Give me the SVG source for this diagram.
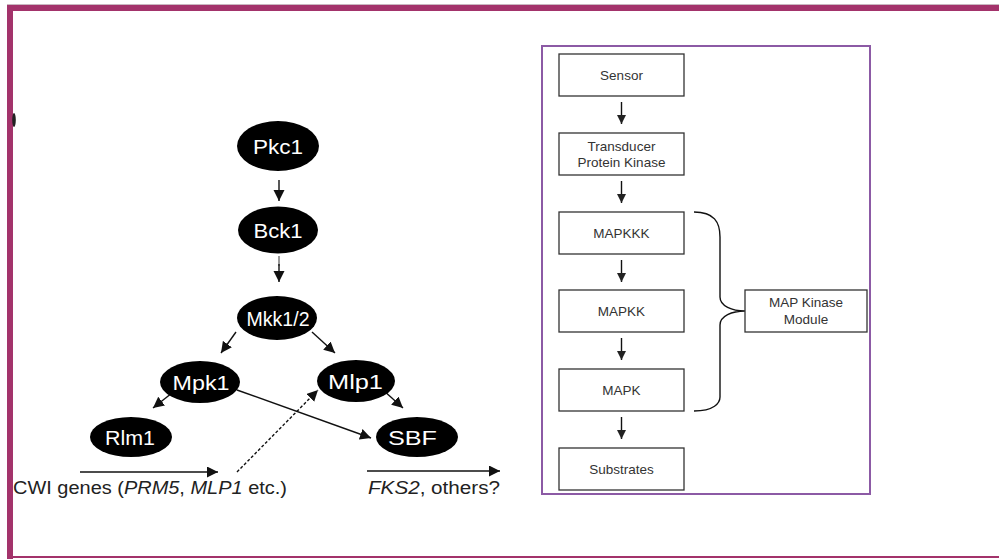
<svg xmlns="http://www.w3.org/2000/svg" width="999" height="559" viewBox="0 0 999 559">
<style>
.node{fill:#000;}
.nt{fill:#fff;font-family:"Liberation Sans",Arial,sans-serif;font-size:21px;text-anchor:middle;}
.ln{stroke:#111;stroke-width:1.4;fill:none;}
.box{fill:#fff;stroke:#333;stroke-width:1.3;}
.bt{fill:#333;font-family:"Liberation Sans",Arial,sans-serif;font-size:13.5px;text-anchor:middle;}
.lab{fill:#222;font-family:"Liberation Sans",Arial,sans-serif;font-size:18px;}
</style>
<defs>
<marker id="ah" markerUnits="userSpaceOnUse" markerWidth="13" markerHeight="12" refX="11" refY="5.5" orient="auto">
<path d="M0,0 L11,5.5 L0,11 z" fill="#111"/>
</marker>
<marker id="ahs" markerUnits="userSpaceOnUse" markerWidth="10" markerHeight="10" refX="9" refY="4.5" orient="auto">
<path d="M0,0 L9,4.5 L0,9 z" fill="#222"/>
</marker>
</defs>
<rect x="0" y="0" width="999" height="559" fill="#fff"/>
<rect x="7" y="4" width="992" height="1" fill="#c9b7c0"/>
<rect x="7" y="5" width="992" height="6" fill="#a3336b"/>
<rect x="7" y="5" width="6" height="554" fill="#a3336b"/>
<rect x="7" y="556" width="992" height="2" fill="#a3336b"/>
<ellipse cx="14" cy="120" rx="1.8" ry="7" fill="#222"/>

<g id="connectors-left">
<line class="ln" x1="279" y1="180" x2="279" y2="201" marker-end="url(#ah)"/>
<line x1="279" y1="256" x2="279" y2="266" stroke="#999" stroke-width="2"/>
<line class="ln" x1="279" y1="264" x2="279" y2="282" marker-end="url(#ah)"/>
<line class="ln" x1="236" y1="332" x2="221" y2="353" marker-end="url(#ah)"/>
<line class="ln" x1="312" y1="332" x2="335" y2="353" marker-end="url(#ah)"/>
<line class="ln" x1="172" y1="393" x2="153" y2="408" marker-end="url(#ah)"/>
<line class="ln" x1="383" y1="390" x2="403" y2="408" marker-end="url(#ah)"/>
<line class="ln" x1="237" y1="390" x2="371" y2="438" marker-end="url(#ah)"/>
<line class="ln" x1="237" y1="472" x2="318" y2="390" stroke-dasharray="3,2" marker-end="url(#ah)"/>
<line class="ln" x1="80" y1="472" x2="218" y2="472" marker-end="url(#ah)"/>
<line class="ln" x1="367" y1="471" x2="500" y2="471" marker-end="url(#ah)"/>
</g>

<g id="n-pkc1"><ellipse class="node" cx="278" cy="146" rx="41" ry="25"/><text class="nt" x="278" y="153.5" textLength="50" lengthAdjust="spacingAndGlyphs">Pkc1</text></g>
<g id="n-bck1"><ellipse class="node" cx="278" cy="230" rx="40" ry="23.5"/><text class="nt" x="278" y="237.5" textLength="49" lengthAdjust="spacingAndGlyphs">Bck1</text></g>
<g id="n-mkk"><ellipse class="node" cx="277" cy="318" rx="40" ry="22"/><text class="nt" x="278" y="325.5" textLength="63" lengthAdjust="spacingAndGlyphs">Mkk1/2</text></g>
<g id="n-mpk1"><ellipse class="node" cx="200" cy="382" rx="40" ry="21"/><text class="nt" x="201" y="389.5" textLength="57" lengthAdjust="spacingAndGlyphs">Mpk1</text></g>
<g id="n-mlp1"><ellipse class="node" cx="356" cy="381" rx="39" ry="21"/><text class="nt" x="355.5" y="388.5" textLength="55" lengthAdjust="spacingAndGlyphs">Mlp1</text></g>
<g id="n-rlm1"><ellipse class="node" cx="131" cy="437" rx="41" ry="20"/><text class="nt" x="130" y="444.5" textLength="50" lengthAdjust="spacingAndGlyphs">Rlm1</text></g>
<g id="n-sbf"><ellipse class="node" cx="417" cy="437" rx="41" ry="20"/><text class="nt" x="412.5" y="444.5" textLength="49" lengthAdjust="spacingAndGlyphs">SBF</text></g>

<g id="label-cwi"><text class="lab" x="13" y="494" textLength="274" lengthAdjust="spacingAndGlyphs">CWI genes (<tspan font-style="italic">PRM5</tspan>, <tspan font-style="italic">MLP1</tspan> etc.)</text></g>
<g id="label-fks2"><text class="lab" x="368" y="494" textLength="132" lengthAdjust="spacingAndGlyphs"><tspan font-style="italic">FKS2</tspan>, others?</text></g>

<rect x="542" y="46" width="328" height="448" fill="#fff" stroke="#8c5aa5" stroke-width="2"/>
<g id="connectors-right">
<line class="ln" x1="621.5" y1="102" x2="621.5" y2="124" marker-end="url(#ahs)"/>
<line class="ln" x1="621.5" y1="181" x2="621.5" y2="203" marker-end="url(#ahs)"/>
<line class="ln" x1="621.5" y1="260" x2="621.5" y2="282" marker-end="url(#ahs)"/>
<line class="ln" x1="621.5" y1="338" x2="621.5" y2="360" marker-end="url(#ahs)"/>
<line class="ln" x1="621.5" y1="417" x2="621.5" y2="439" marker-end="url(#ahs)"/>
<path class="ln" stroke="#222" d="M694,212 C714,212 720,222 720,237 L720,297 C720,306 732,311 745,311 C732,311 720,316 720,325 L720,397 C720,403 714,411 694,411"/>
</g>
<g id="b-sensor"><rect class="box" x="559" y="54" width="125" height="42"/><text class="bt" x="621.5" y="79.8">Sensor</text></g>
<g id="b-transducer"><rect class="box" x="559" y="133" width="125" height="42"/><text class="bt" x="621.5" y="150.8">Transducer</text><text class="bt" x="621.5" y="166.8">Protein Kinase</text></g>
<g id="b-mapkkk"><rect class="box" x="559" y="212" width="125" height="42"/><text class="bt" x="621.5" y="237.8">MAPKKK</text></g>
<g id="b-mapkk"><rect class="box" x="559" y="290" width="125" height="42"/><text class="bt" x="621.5" y="315.8">MAPKK</text></g>
<g id="b-mapk"><rect class="box" x="559" y="369" width="125" height="42"/><text class="bt" x="621.5" y="394.8">MAPK</text></g>
<g id="b-substrates"><rect class="box" x="559" y="448" width="125" height="42"/><text class="bt" x="621.5" y="473.8">Substrates</text></g>
<g id="b-module"><rect class="box" x="745" y="290" width="122" height="42"/><text class="bt" x="806" y="307">MAP Kinase</text><text class="bt" x="806" y="324">Module</text></g>
</svg>
